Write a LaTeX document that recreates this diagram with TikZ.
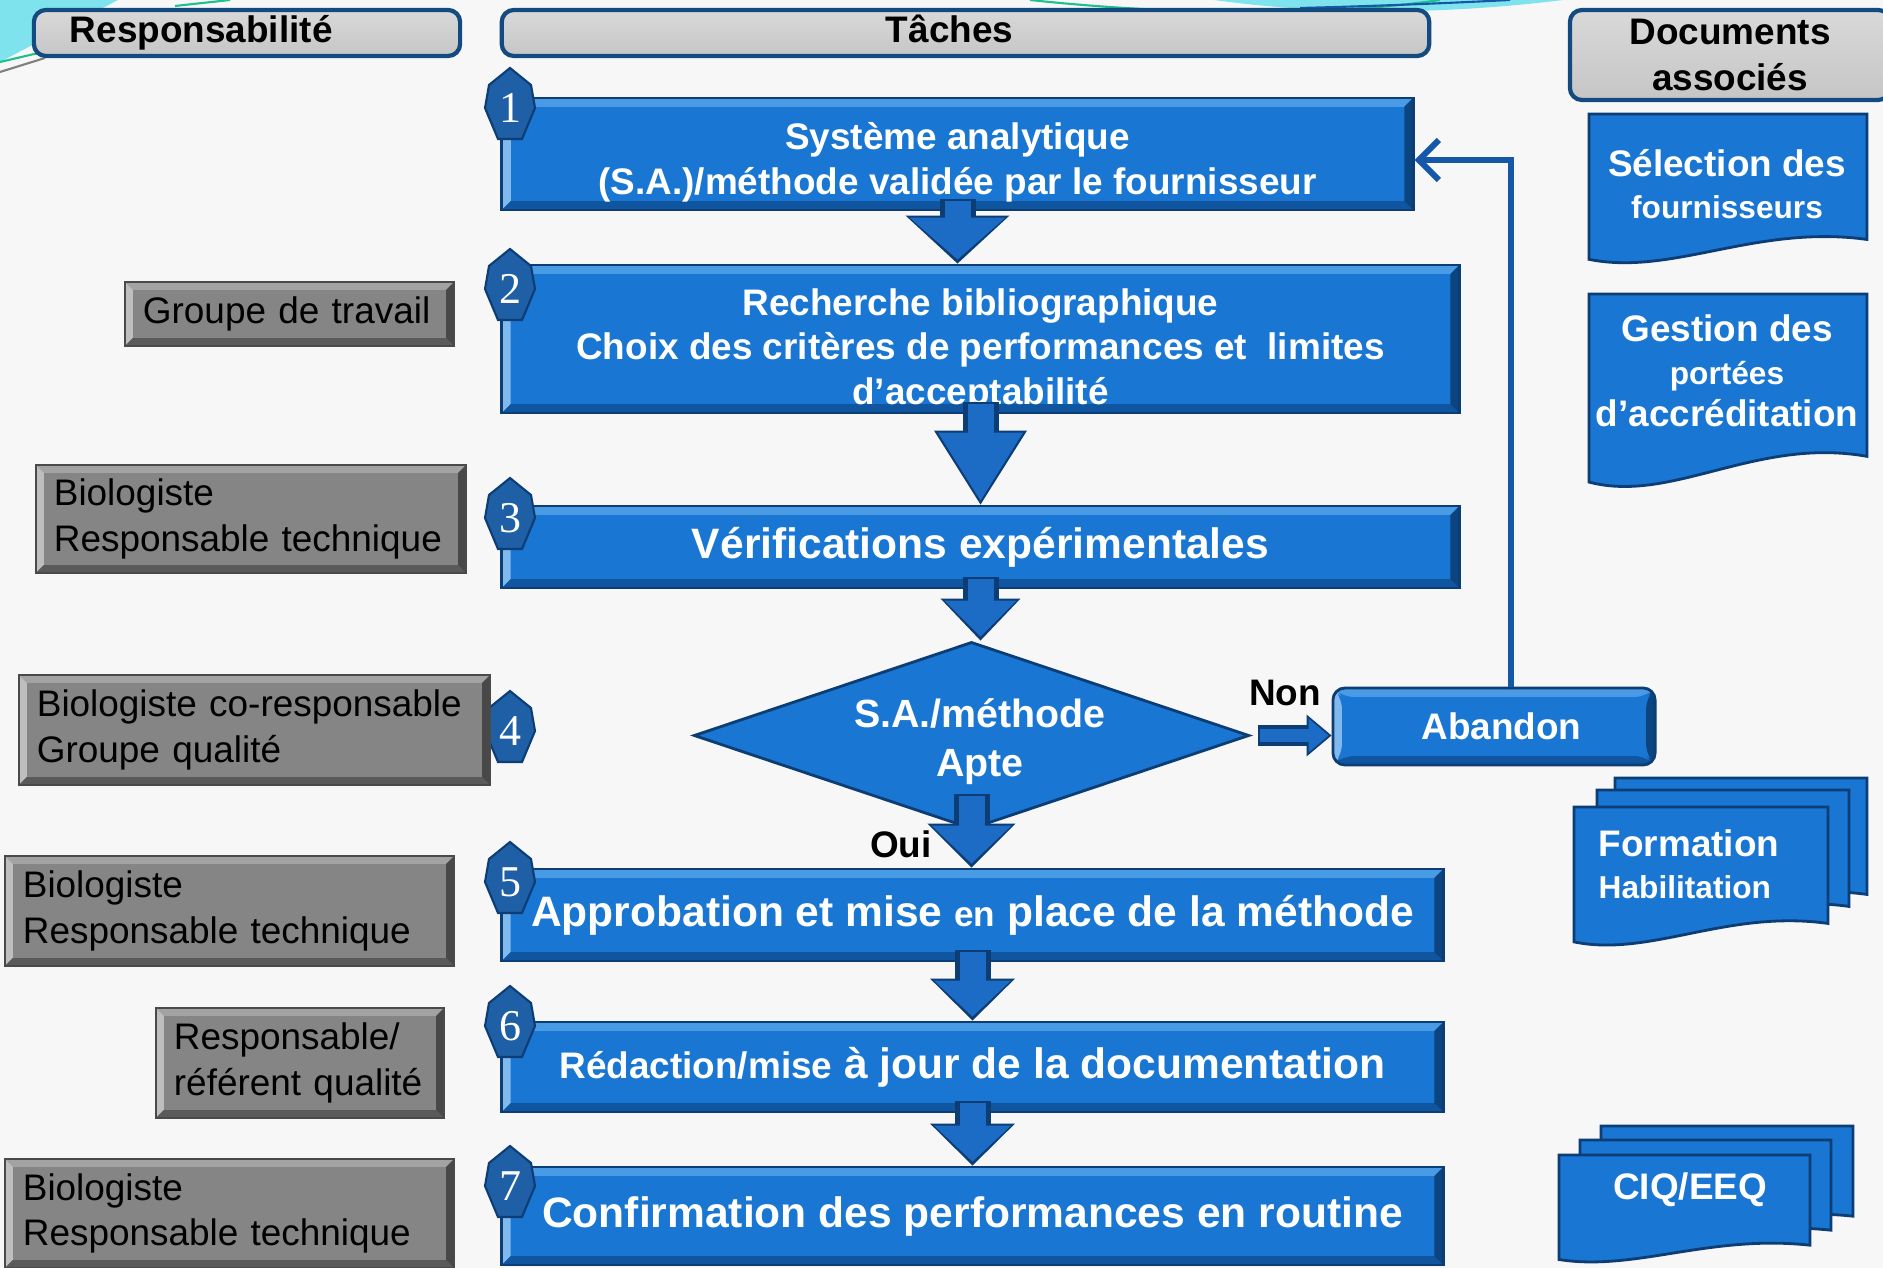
\documentclass[tikz,border=0pt]{standalone}
\usepackage{fontspec}
\setmainfont{Liberation Sans}
\newfontfamily\numfont{Liberation Serif}
\usetikzlibrary{shapes.geometric,arrows.meta,calc}

\definecolor{bgpaper}{HTML}{F7F7F7}
\definecolor{taskblue}{HTML}{1976D2}
\definecolor{taskdark}{HTML}{0C3D75}
\definecolor{tasklight}{HTML}{4A9BE6}
\definecolor{taskshade}{HTML}{0F559F}
\definecolor{rolegray}{HTML}{858585}
\definecolor{roledark}{HTML}{4A4A4A}
\definecolor{rolelight}{HTML}{A3A3A3}
\definecolor{roleshade}{HTML}{5A5A5A}
\definecolor{hdrblue}{HTML}{134A80}
\definecolor{badgeblue}{HTML}{1F5FA6}
\definecolor{arrowblue}{HTML}{1C6CC6}
\definecolor{fbblue}{HTML}{1558A8}
\definecolor{decocyan}{HTML}{7FE3EE}
\definecolor{decogreen}{HTML}{1FBF8F}
\hyphenpenalty=10000

\begin{document}
\begin{tikzpicture}[x=0.01cm,y=-0.01cm,
    bevel/.style n args={3}{path picture={
        \fill[#1] (path picture bounding box.north west) -- (path picture bounding box.north east)
          -- ([xshift=-#3,yshift=-#3]path picture bounding box.north east)
          -- ([xshift=#3,yshift=-#3]path picture bounding box.north west) -- cycle;
        \fill[#1!70!white] (path picture bounding box.north west) -- (path picture bounding box.south west)
          -- ([xshift=#3,yshift=#3]path picture bounding box.south west)
          -- ([xshift=#3,yshift=-#3]path picture bounding box.north west) -- cycle;
        \fill[#2] (path picture bounding box.south west) -- (path picture bounding box.south east)
          -- ([xshift=-#3,yshift=#3]path picture bounding box.south east)
          -- ([xshift=#3,yshift=#3]path picture bounding box.south west) -- cycle;
        \fill[#2!80!black] (path picture bounding box.north east) -- (path picture bounding box.south east)
          -- ([xshift=-#3,yshift=#3]path picture bounding box.south east)
          -- ([xshift=-#3,yshift=-#3]path picture bounding box.north east) -- cycle;
    }},
    hdr/.style={draw=hdrblue, line width=1.2pt, rounded corners=0.12cm,
        top color=gray!30, middle color=gray!5, bottom color=gray!45,
        inner sep=0pt, align=center, font=\bfseries\fontsize{10.5}{12.8}\selectfont},
    task/.style={draw=taskdark, line width=0.8pt, fill=taskblue, text=white, inner sep=0pt,
        align=center, font=\bfseries\fontsize{10.5}{12.7}\selectfont,
        bevel={tasklight}{taskshade}{0.09cm}},
    big/.style={font=\bfseries\fontsize{12.1}{14}\selectfont},
    role/.style={draw=roledark, line width=0.6pt, fill=rolegray, text=black, align=left,
        inner xsep=0.18cm, inner ysep=0pt, font=\fontsize{10.5}{13}\selectfont,
        bevel={rolelight}{roleshade}{0.08cm}},
    diam/.style={diamond, aspect=2.97, draw=taskdark, line width=0.8pt, fill=taskblue,
        inner sep=0pt, minimum width=5.55cm, minimum height=1.87cm},
    diamtxt/.style={text=white, align=center, inner sep=0pt, font=\bfseries\fontsize{11.2}{14}\selectfont},
    doc/.style={draw=taskdark, line width=0.8pt, fill=taskblue},
    doctxt/.style={text=white, align=center, inner sep=0pt, font=\bfseries\fontsize{10.5}{12}\selectfont},
    badge/.style={draw=taskdark, line width=0.6pt, fill=badgeblue},
    numtxt/.style={text=white, inner sep=0pt, font=\numfont\fontsize{12.5}{12.5}\selectfont},
    lbl/.style={text=black, inner sep=0pt, font=\bfseries\fontsize{10.5}{12}\selectfont},
]
% page and background
\useasboundingbox (0,0) rectangle (1883,1268);
\fill[bgpaper] (0,0) rectangle (1883,1268);
\fill[decocyan] (0,0) -- (118,0) -- (0,62) -- cycle;
\draw[decogreen, line width=0.6pt] (0,62) -- (60,48);
\draw[gray, line width=0.6pt] (0,72) -- (45,58);
\draw[decogreen, line width=0.6pt] (175,6) -- (230,0);
\fill[decocyan] (1214,0) .. controls (1330,16) and (1450,14) .. (1563,0) -- cycle;
\draw[decogreen, line width=0.6pt] (1030,0) .. controls (1180,16) and (1330,16) .. (1440,0);
\draw[fbblue, line width=0.6pt] (1300,8) .. controls (1380,6) and (1450,3) .. (1510,0);

% column headers
\node[hdr, minimum width=4.26cm, minimum height=0.46cm, text width=3.54cm, align=left,
    inner xsep=0.36cm, text height=8pt, text depth=2.6pt] (hresp) at (247,33) {Responsabilité};
\node[hdr, minimum width=9.27cm, minimum height=0.46cm, text width=8.97cm, align=left,
    inner xsep=0.15cm, text height=8pt, text depth=2.6pt] (htache) at (965.5,33) {\hspace*{3.69cm}Tâches};
\node[hdr, minimum width=3.2cm, minimum height=0.9cm] (hdoc) at (1730,55) {Documents\\associés};

% tasks
\node[task, minimum width=9.11cm, minimum height=1.12cm] (t1) at (957.5,154)
    {\rule{0pt}{12.5pt}Système analytique\\(S.A.)/méthode validée par le fournisseur};
\node[task, minimum width=9.57cm, minimum height=1.48cm] (t2) at (980.5,339)
    {\rule{0pt}{14pt}Recherche bibliographique\\Choix des critères de performances et\ \ limites\\d’acceptabilité};
\node[task, big, minimum width=9.57cm, minimum height=0.82cm] (t3) at (980.5,547)
    {Vérifications expérimentales};
\node[diam] (dm) at (971.5,735.5) {};
\node[diamtxt] (dmtxt) at (980,742) {S.A./méthode\\Apte};
\node[task, rounded corners=0.12cm, font=\bfseries\fontsize{10.5}{12}\selectfont,
    minimum width=3.22cm, minimum height=0.77cm] (ab) at (1494,726.5) {\hspace{0.15cm}Abandon};
\node[task, big, minimum width=9.41cm, minimum height=0.92cm] (t5) at (972.5,915)
    {Approbation et mise {\fontsize{10}{12}\selectfont en} place de la méthode};
\node[task, big, minimum width=9.41cm, minimum height=0.90cm] (t6) at (972.5,1067)
    {{\fontsize{10.5}{12}\selectfont Rédaction/mise} à jour de la documentation};
\node[task, big, minimum width=9.41cm, minimum height=0.98cm] (t7) at (972.5,1216)
    {Confirmation des performances en routine};

% step numbers
\foreach \n/\y in {1/104,2/285,3/514,4/727,5/878,6/1022,7/1182} {
    \filldraw[badge] (510,\y) ++(0,-36) -- ++(21,17) -- ++(4,23) -- ++(-13,31)
        -- ++(-24,0) -- ++(-13,-31) -- ++(4,-23) -- cycle;
    \node[numtxt] (b\n) at (510,{\y+4}) {\n};
}

% responsibilities
\node[role, text width=2.93cm, minimum height=0.64cm] (r2) at (289.5,314) {Groupe de travail};
\node[role, text width=3.94cm, minimum height=1.08cm] (r3) at (251,519) {Biologiste\\Responsable technique};
\node[role, text width=4.35cm, minimum height=1.10cm] (r4) at (254.5,730) {Biologiste co-responsable\\Groupe qualité};
\node[role, text width=4.13cm, minimum height=1.10cm] (r5) at (229.5,911) {Biologiste\\Responsable technique};
\node[role, text width=2.52cm, minimum height=1.10cm] (r6) at (300,1063) {Responsable/\\référent qualité};
\node[role, text width=4.13cm, minimum height=1.09cm] (r7) at (229.5,1213.5) {Biologiste\\Responsable technique};

% associated documents
\foreach \x/\y/\w/\h in {1589/114/278/153, 1589/294/278/198,
        1615/778/252/142, 1597/790/252/142, 1574/807/254/142,
        1601/1126/252/110, 1580/1140/251/110, 1559/1155/251/110} {
    \draw[doc] (\x,\y) -- ({\x+\w},\y) -- ({\x+\w},{\y+0.82*\h})
        .. controls ({\x+0.6*\w},{\y+0.72*\h}) and ({\x+0.3*\w},{\y+1.06*\h}) .. (\x,{\y+0.95*\h}) -- cycle;
}
\node[doctxt] (dsel) at (1727,184) {Sélection des\\{\fontsize{9}{12}\selectfont fournisseurs}};
\node[doctxt] (dges) at (1727,371) {Gestion des\\{\fontsize{9}{12}\selectfont portées}\\d’accréditation};
\node[doctxt, anchor=west, align=left] (dfor) at (1598,864) {Formation\\{\fontsize{9}{12}\selectfont Habilitation}};
\node[doctxt] (dciq) at (1690,1190) {CIQ/EEQ};

% flow arrows
\coordinate (dmo) at ([yshift=-0.70cm]dm.center);
\foreach \s/\b/\hw/\hl in {t1.south/t2/0.96/0.42, t2.south/t3/0.85/0.68, t3.south/dm/0.72/0.36,
        dmo/t5/0.80/0.38, t5.south/t6/0.77/0.36, t6.south/t7/0.77/0.36} {
    \pgfmathsetlengthmacro{\ow}{(\hw+0.08)*1cm}
    \pgfmathsetlengthmacro{\ol}{(\hl+0.06)*1cm}
    \pgfmathsetlengthmacro{\iw}{\hw*1cm}
    \pgfmathsetlengthmacro{\il}{\hl*1cm}
    \draw[taskdark, line width=0.36cm, -{Triangle[width=\ow, length=\ol, line width=0pt]}]
        ([yshift=0.12cm]\s) -- (\s |- \b.north);
    \draw[arrowblue, line width=0.26cm, -{Triangle[width=\iw, length=\il, line width=0pt]}]
        ([yshift=0.10cm]\s) -- ([yshift=0.04cm]\s |- \b.north);
}
\draw[taskdark, line width=0.2cm, -{Triangle[width=0.42cm, length=0.25cm, line width=0pt]}]
    ([xshift=0.07cm]dm.east) -- (dm.east -| ab.west);
\draw[arrowblue, line width=0.13cm, -{Triangle[width=0.34cm, length=0.2cm, line width=0pt]}]
    ([xshift=0.09cm]dm.east) -- ([xshift=-0.03cm]dm.east -| ab.west);
\draw[fbblue, line width=0.06cm, -{Straight Barb[length=0.2cm, width=0.4cm]}]
    ([xshift=0.17cm]ab.north) |- ([yshift=-0.06cm]t1.east);

% branch labels
\node[lbl] (non) at (1285,693) {Non};
\node[lbl] (oui) at (901,844) {Oui};
\end{tikzpicture}
\end{document}
